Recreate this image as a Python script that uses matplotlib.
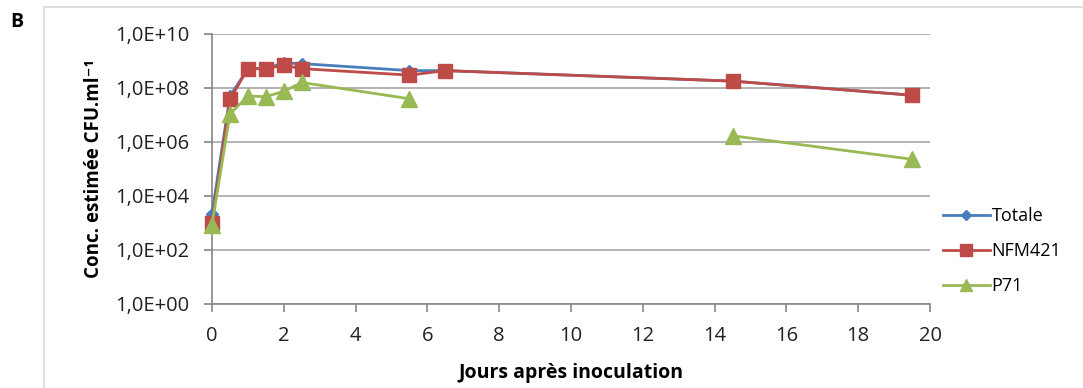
import numpy as np
import matplotlib.pyplot as plt
from matplotlib.patches import Rectangle
from matplotlib.ticker import FixedLocator

plt.rcParams['font.family'] = ['Open Sans', 'DejaVu Sans']

jours = [0, 0.5, 1, 1.5, 2, 2.5, 5.5, 6.5, 14.5, 19.5]
totale = [2.2e3, 5.0e7, 5.2e8, 5.2e8, 8.5e8, 8.0e8, 4.4e8, 4.4e8, 1.8e8, 5.4e7]
nfm421 = [1.0e3, 3.8e7, 5.2e8, 5.2e8, 7.0e8, 5.2e8, 3.0e8, 4.4e8, 1.8e8, 5.4e7]
p71 = [8.5e2, 1.1e7, 5.0e7, 4.8e7, 7.5e7, 1.6e8, 4.0e7, np.nan, 1.7e6, 2.3e5]

series = ['Totale', 'NFM421', 'P71']
yticks = [1e0, 1e2, 1e4, 1e6, 1e8, 1e10]
ytick_labels = ['1,0E+00', '1,0E+02', '1,0E+04', '1,0E+06', '1,0E+08', '1,0E+10']

W, H = 1083, 388
fig = plt.figure(figsize=(W / 100, H / 100), dpi=100)
ax = fig.add_axes([212 / W, 1 - 304 / H, (930 - 212) / W, (304 - 34) / H])

# chart frame
fig.patches.append(Rectangle((44 / W, -0.1), 1.2, 1 - 7 / H + 0.1, transform=fig.transFigure,
                             fill=False, edgecolor='#d9d9d9', linewidth=1.2))

ax.plot(jours, totale, color='#4a7ebb', marker='D', markersize=6, linewidth=2,
        label=series[0], clip_on=False, zorder=3)
ax.plot(jours, nfm421, color='#be4b48', marker='s', markersize=10, linewidth=2,
        label=series[1], clip_on=False, zorder=4)
ax.plot(jours, p71, color='#98b954', marker='^', markersize=11, linewidth=2,
        label=series[2], clip_on=False, zorder=5)

ax.set_yscale('log')
ax.set_ylim(1e0, 1e10)
ax.set_xlim(0, 20)
ax.yaxis.set_major_locator(FixedLocator(yticks))
ax.yaxis.set_minor_locator(FixedLocator([]))
ax.set_yticklabels(ytick_labels)
ax.set_xticks(range(0, 21, 2))

ax.grid(axis='y', color='#a6a6a6', linewidth=1.2)
ax.set_axisbelow(True)
for s in ['top', 'right']:
    ax.spines[s].set_visible(False)
for s in ['left', 'bottom']:
    ax.spines[s].set_color('#868686')
    ax.spines[s].set_linewidth(1.2)
ax.tick_params(axis='both', colors='#868686', labelcolor='#222222', labelsize=14.5,
               length=6, width=1.2)
ax.tick_params(axis='x', pad=10)
ax.tick_params(axis='y', pad=10)

ax.set_xlabel('Jours après inoculation', fontsize=14, fontweight='bold', labelpad=12)
ax.set_ylabel('Conc. estimée CFU.ml⁻¹', fontsize=13.5, fontweight='bold', labelpad=8)

fig.text(10 / W, 1 - 22 / H, 'B', fontsize=14, fontweight='bold', va='center')

ax.legend(loc='center left', bbox_to_anchor=(0.995, 0.196), bbox_transform=ax.transAxes,
          frameon=False, fontsize=13, handlelength=2.6, handletextpad=0.1, labelspacing=0.95,
          markerscale=0.8)

fig.savefig('out.png', dpi=100)
